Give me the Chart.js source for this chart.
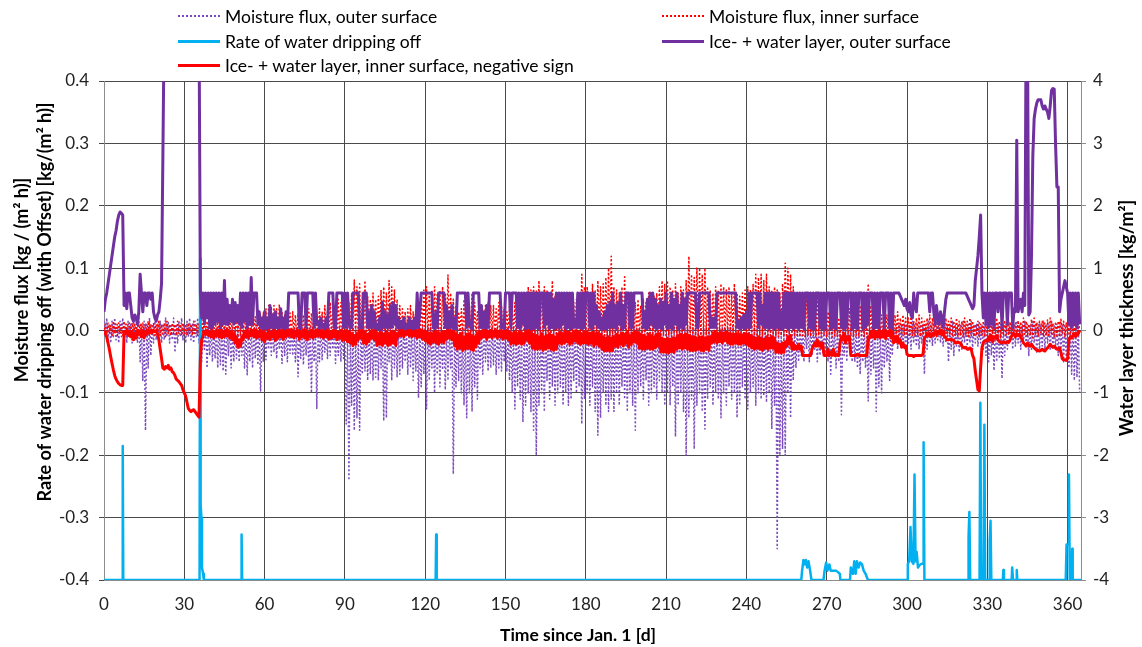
<!DOCTYPE html>
<html>
<head>
<meta charset="utf-8">
<script src="https://cdn.jsdelivr.net/npm/chart.js@4/dist/chart.umd.min.js"></script>
<style>
  html, body { margin: 0; padding: 0; background: #fff; }
  #wrap { position: relative; width: 1142px; height: 647px; }
  #legend { position: absolute; left: 0; top: 0; width: 1142px; height: 78px; font-family: Lato, sans-serif; font-size: 17.5px; color: #000; }
  .item { position: absolute; display: flex; align-items: center; height: 20px; white-space: nowrap; }
  .swatch { width: 42px; height: 0; margin-right: 5px; }
</style>
</head>
<body>
<div id="wrap">
  <canvas id="chart" width="1142" height="647"></canvas>
  <div id="legend"></div>
</div>
<script>
// two readings per day (0:00 and 12:00), days 0..364
const STEP = 0.5;

const seriesNames = [
  'Moisture flux, outer surface',
  'Moisture flux, inner surface',
  'Rate of water dripping off',
  'Ice- + water layer, outer surface',
  'Ice- + water layer, inner surface, negative sign'
];

// kg/(m² h), left axis
const outerFlux = [
  0.015,-0.01,0.02,-0.015,0.01,-0.02,0.015,-0.01,0.02,-0.015,0.01,-0.02,0.015,-0.01,0.02,-0.015,0.01,-0.02,0.015,-0.01,
  0.01,-0.02,0.015,-0.015,0.01,-0.02,0.02,-0.05,0.01,-0.08,0.015,-0.16,0.01,-0.06,0.02,-0.04,0.01,-0.02,0.015,-0.015,
  0.01,-0.01,0.015,-0.02,0.01,-0.015,0.02,-0.01,0.015,-0.02,0.01,-0.015,0.02,-0.035,0.01,-0.02,0.015,-0.01,0.02,-0.015,
  0.01,-0.02,0.015,-0.01,0.02,-0.015,0.01,-0.02,0.015,-0.01,0.02,-0.02,0.01,-0.05,0.005,-0.03,0.005,-0.06,0.005,-0.04,
  0.005,-0.05,0.005,-0.045,0.005,-0.06,0.005,-0.055,0.005,-0.065,0.005,-0.07,0.005,-0.04,0.005,-0.06,0.005,-0.05,0.005,-0.045,
  0.005,-0.05,0.005,-0.04,0.005,-0.06,0.005,-0.071,0.005,-0.05,0.005,-0.06,0.005,-0.045,0.005,-0.055,0.005,-0.097,0.005,-0.05,
  0.005,-0.047,0.005,-0.03,0.005,-0.04,0.005,-0.035,0.005,-0.045,0.005,-0.03,0.005,-0.053,0.005,-0.04,0.005,-0.05,0.005,-0.037,
  0.005,-0.04,0.005,-0.05,0.005,-0.074,0.005,-0.045,0.005,-0.055,0.005,-0.04,0.005,-0.06,0.005,-0.1,0.005,-0.05,0.005,-0.125,
  0.005,-0.05,0.005,-0.047,0.005,-0.035,0.005,-0.045,0.005,-0.04,0.005,-0.03,0.005,-0.053,0.005,-0.04,0.005,-0.05,0.005,-0.045,
  0.005,-0.15,0.005,-0.24,0.005,-0.12,0.005,-0.16,0.005,-0.14,0.005,-0.16,0.005,-0.07,0.005,-0.065,0.005,-0.08,0.005,-0.07,
  0.005,-0.08,0.005,-0.075,0.005,-0.08,0.005,-0.06,0.005,-0.145,0.005,-0.14,0.005,-0.05,0.005,-0.08,0.005,-0.06,0.005,-0.075,
  0.005,-0.07,0.005,-0.06,0.005,-0.05,0.005,-0.07,0.005,-0.06,0.005,-0.08,0.005,-0.065,0.005,-0.108,0.005,-0.09,0.005,-0.07,
  0.005,-0.126,0.005,-0.08,0.005,-0.06,0.005,-0.1,0.005,-0.07,0.005,-0.09,0.005,-0.063,0.005,-0.095,0.005,-0.08,0.005,-0.06,
  0.005,-0.23,0.005,-0.09,0.005,-0.08,0.005,-0.1,0.005,-0.12,0.005,-0.14,0.005,-0.1,0.005,-0.13,0.005,-0.09,0.005,-0.11,
  0.005,-0.06,0.005,-0.07,0.005,-0.05,0.005,-0.065,0.005,-0.06,0.005,-0.055,0.005,-0.07,0.005,-0.06,0.005,-0.065,0.005,-0.05,
  0.005,-0.066,0.005,-0.08,0.005,-0.1,0.005,-0.126,0.005,-0.09,0.005,-0.11,0.005,-0.147,0.005,-0.12,0.005,-0.1,0.005,-0.13,
  0.005,-0.16,0.005,-0.2,0.005,-0.12,0.005,-0.1,0.005,-0.13,0.005,-0.08,0.005,-0.11,0.005,-0.09,0.005,-0.12,0.005,-0.1,
  0.005,-0.09,0.005,-0.12,0.005,-0.1,0.005,-0.12,0.005,-0.11,0.005,-0.08,0.005,-0.1,0.005,-0.09,0.005,-0.15,0.005,-0.11,
  0.005,-0.1,0.005,-0.12,0.005,-0.09,0.005,-0.13,0.005,-0.168,0.005,-0.14,0.005,-0.1,0.005,-0.12,0.005,-0.13,0.005,-0.11,
  0.005,-0.13,0.005,-0.1,0.005,-0.12,0.005,-0.09,0.005,-0.11,0.005,-0.13,0.005,-0.1,0.005,-0.12,0.005,-0.16,0.005,-0.1,
  0.005,-0.09,0.005,-0.11,0.005,-0.08,0.005,-0.12,0.005,-0.1,0.005,-0.09,0.005,-0.11,0.005,-0.08,0.005,-0.1,0.005,-0.12,
  0.005,-0.1,0.005,-0.12,0.005,-0.09,0.005,-0.17,0.005,-0.12,0.005,-0.1,0.005,-0.13,0.005,-0.2,0.005,-0.14,0.005,-0.11,
  0.005,-0.19,0.005,-0.12,0.005,-0.1,0.005,-0.13,0.005,-0.158,0.005,-0.11,0.005,-0.09,0.005,-0.12,0.005,-0.1,0.005,-0.11,
  0.005,-0.14,0.005,-0.1,0.005,-0.12,0.005,-0.09,0.005,-0.11,0.005,-0.1,0.005,-0.14,0.005,-0.12,0.005,-0.09,0.005,-0.11,
  0.005,-0.126,0.005,-0.1,0.005,-0.09,0.005,-0.12,0.005,-0.1,0.005,-0.11,0.005,-0.105,0.005,-0.115,0.005,-0.1,0.005,-0.158,
  0.005,-0.12,0.005,-0.35,0.005,-0.2,0.005,-0.19,0.005,-0.2,0.005,-0.1,0.005,-0.14,0.005,-0.08,0.005,-0.06,0.005,-0.05,
  0.005,-0.04,0.005,-0.05,0.005,-0.03,0.005,-0.05,0.005,-0.04,0.005,-0.03,0.005,-0.05,0.005,-0.04,0.005,-0.035,0.005,-0.04,
  0.005,-0.05,0.005,-0.07,0.005,-0.04,0.005,-0.06,0.005,-0.05,0.005,-0.135,0.005,-0.04,0.005,-0.05,0.005,-0.03,0.005,-0.05,
  0.005,-0.05,0.005,-0.06,0.005,-0.07,0.005,-0.05,0.005,-0.06,0.005,-0.113,0.005,-0.07,0.005,-0.06,0.005,-0.13,0.005,-0.09,
  0.005,-0.1,0.005,-0.06,0.005,-0.05,0.005,-0.08,0.005,-0.04,0.005,-0.02,0.01,-0.03,0.01,-0.015,0.01,-0.02,0.01,-0.03,
  0.01,-0.02,0.01,-0.03,0.015,-0.02,0.01,-0.025,0.01,-0.03,0.01,-0.02,0.01,-0.07,0.01,-0.03,0.015,-0.02,0.01,-0.025,
  0.01,-0.02,0.015,-0.015,0.01,-0.02,0.01,-0.025,0.015,-0.02,0.01,-0.05,0.01,-0.03,0.015,-0.04,0.01,-0.025,0.01,-0.035,
  0.01,-0.03,0.015,-0.02,0.01,-0.025,0.01,-0.02,0.015,-0.03,0.01,-0.02,0.01,-0.025,0.015,-0.02,0.01,-0.03,0.01,-0.04,
  0.01,-0.05,0.01,-0.04,0.01,-0.064,0.01,-0.05,0.01,-0.045,0.01,-0.077,0.01,-0.04,0.01,-0.03,0.015,-0.02,0.01,-0.03,
  0.01,-0.025,0.015,-0.02,0.01,-0.03,0.01,-0.02,0.015,-0.025,0.01,-0.04,0.01,-0.03,0.015,-0.02,0.01,-0.035,0.01,-0.03,
  0.01,-0.025,0.015,-0.03,0.01,-0.02,0.01,-0.032,0.015,-0.025,0.01,-0.03,0.01,-0.04,0.015,-0.03,0.01,-0.05,0.01,-0.045,
  0.01,-0.06,0.01,-0.07,0.01,-0.08,0.01,-0.075,0.01,-0.1
];

const innerFlux = [
  -0.005,0.01,-0.008,0.012,-0.005,0.008,-0.01,0.015,-0.005,0.01,-0.008,0.012,-0.005,0.01,-0.008,0.015,-0.005,0.01,-0.008,0.012,
  -0.005,0.012,-0.008,0.01,-0.005,0.015,-0.01,0.01,-0.005,0.012,-0.008,0.01,-0.005,0.015,-0.008,0.01,-0.005,0.012,-0.008,0.01,
  -0.005,0.015,-0.008,0.01,-0.005,0.012,-0.01,0.015,-0.005,0.01,-0.008,0.012,-0.005,0.01,-0.008,0.015,-0.005,0.01,-0.008,0.012,
  -0.005,0.01,-0.008,0.012,-0.005,0.01,-0.008,0.015,-0.005,0.01,-0.008,0.012,-0.01,0.02,-0.008,0.025,-0.01,0.015,-0.008,0.02,
  -0.01,0.02,-0.008,0.025,-0.01,0.018,-0.008,0.02,-0.01,0.025,-0.008,0.03,-0.01,0.02,-0.008,0.028,-0.01,0.03,-0.008,0.025,
  -0.01,0.03,-0.008,0.022,-0.01,0.028,-0.008,0.02,-0.01,0.025,-0.008,0.03,-0.01,0.022,-0.008,0.025,-0.01,0.02,-0.008,0.028,
  -0.01,0.035,-0.008,0.04,-0.01,0.038,-0.008,0.04,-0.01,0.035,-0.008,0.042,-0.01,0.03,-0.008,0.025,-0.01,0.03,-0.008,0.028,
  -0.01,0.03,-0.008,0.025,-0.01,0.028,-0.008,0.032,-0.01,0.025,-0.008,0.03,-0.01,0.035,-0.008,0.028,-0.01,0.03,-0.008,0.025,
  -0.01,0.035,-0.008,0.03,-0.01,0.04,-0.008,0.032,-0.01,0.045,-0.008,0.035,-0.01,0.04,-0.008,0.05,-0.01,0.045,-0.008,0.04,
  -0.01,0.05,-0.008,0.045,-0.01,0.06,-0.008,0.081,-0.01,0.07,-0.008,0.075,-0.01,0.06,-0.008,0.08,-0.01,0.055,-0.008,0.05,
  -0.01,0.06,-0.008,0.05,-0.01,0.055,-0.008,0.065,-0.01,0.07,-0.008,0.06,-0.01,0.08,-0.008,0.07,-0.01,0.065,-0.008,0.05,
  -0.01,0.04,-0.008,0.035,-0.01,0.03,-0.008,0.035,-0.01,0.04,-0.008,0.03,-0.01,0.035,-0.008,0.045,-0.01,0.06,-0.008,0.065,
  -0.01,0.07,-0.008,0.06,-0.01,0.065,-0.008,0.07,-0.01,0.06,-0.008,0.065,-0.01,0.07,-0.008,0.06,-0.01,0.089,-0.008,0.06,
  -0.01,0.05,-0.008,0.04,-0.01,0.03,-0.008,0.035,-0.01,0.05,-0.008,0.055,-0.01,0.04,-0.008,0.06,-0.01,0.045,-0.008,0.03,
  -0.01,0.035,-0.008,0.03,-0.01,0.04,-0.008,0.045,-0.01,0.04,-0.008,0.04,-0.01,0.035,-0.008,0.045,-0.01,0.04,-0.008,0.035,
  -0.01,0.03,-0.008,0.04,-0.01,0.035,-0.008,0.045,-0.01,0.05,-0.008,0.04,-0.01,0.055,-0.008,0.05,-0.01,0.07,-0.008,0.065,
  -0.01,0.07,-0.008,0.065,-0.01,0.08,-0.008,0.06,-0.01,0.07,-0.008,0.065,-0.01,0.06,-0.008,0.08,-0.01,0.055,-0.008,0.06,
  -0.01,0.04,-0.008,0.045,-0.01,0.035,-0.008,0.05,-0.01,0.04,-0.008,0.045,-0.01,0.05,-0.008,0.04,-0.01,0.09,-0.008,0.07,
  -0.01,0.07,-0.008,0.06,-0.01,0.075,-0.008,0.065,-0.01,0.08,-0.008,0.07,-0.01,0.075,-0.008,0.085,-0.01,0.1,-0.008,0.119,
  -0.01,0.07,-0.008,0.065,-0.01,0.06,-0.008,0.07,-0.01,0.086,-0.008,0.06,-0.01,0.05,-0.008,0.055,-0.01,0.045,-0.008,0.05,
  -0.01,0.04,-0.008,0.05,-0.01,0.045,-0.008,0.06,-0.01,0.05,-0.008,0.055,-0.01,0.06,-0.008,0.07,-0.01,0.08,-0.008,0.075,
  -0.01,0.08,-0.008,0.07,-0.01,0.065,-0.008,0.075,-0.01,0.06,-0.008,0.07,-0.01,0.065,-0.008,0.08,-0.01,0.119,-0.008,0.09,
  -0.01,0.085,-0.008,0.1,-0.01,0.1,-0.008,0.09,-0.01,0.1,-0.008,0.07,-0.01,0.065,-0.008,0.06,-0.01,0.07,-0.008,0.065,
  -0.01,0.075,-0.008,0.07,-0.01,0.065,-0.008,0.07,-0.01,0.06,-0.008,0.075,-0.01,0.06,-0.008,0.055,-0.01,0.06,-0.008,0.065,
  -0.01,0.07,-0.008,0.065,-0.01,0.075,-0.008,0.09,-0.01,0.085,-0.008,0.09,-0.01,0.08,-0.008,0.09,-0.01,0.07,-0.008,0.065,
  -0.01,0.07,-0.008,0.065,-0.01,0.06,-0.008,0.075,-0.01,0.108,-0.008,0.1,-0.01,0.09,-0.008,0.07,-0.01,0.06,-0.008,0.05,
  -0.01,0.05,-0.008,0.043,-0.01,0.06,-0.008,0.045,-0.01,0.05,-0.008,0.04,-0.01,0.055,-0.008,0.045,-0.01,0.04,-0.008,0.035,
  -0.01,0.03,-0.008,0.025,-0.01,0.03,-0.008,0.025,-0.01,0.02,-0.008,0.03,-0.01,0.025,-0.008,0.03,-0.01,0.035,-0.008,0.03,
  -0.01,0.03,-0.008,0.035,-0.01,0.04,-0.008,0.03,-0.01,0.05,-0.008,0.075,-0.01,0.04,-0.008,0.035,-0.01,0.03,-0.008,0.025,
  -0.01,0.025,-0.008,0.02,-0.01,0.025,-0.008,0.03,-0.01,0.02,-0.008,0.025,-0.01,0.03,-0.008,0.02,-0.01,0.025,-0.008,0.02,
  -0.008,0.02,-0.01,0.025,-0.008,0.015,-0.01,0.02,-0.008,0.025,-0.01,0.02,-0.008,0.015,-0.01,0.02,-0.008,0.025,-0.01,0.02,
  -0.008,0.02,-0.01,0.015,-0.008,0.02,-0.01,0.025,-0.008,0.02,-0.01,0.015,-0.008,0.02,-0.01,0.015,-0.008,0.02,-0.01,0.015,
  -0.008,0.015,-0.01,0.02,-0.008,0.015,-0.01,0.02,-0.008,0.015,-0.01,0.01,-0.008,0.015,-0.01,0.01,-0.008,0.015,-0.01,0.012,
  -0.008,0.015,-0.01,0.012,-0.006,0.018,-0.01,0.02,-0.008,0.015,-0.012,0.012,-0.008,0.016,-0.01,0.02,-0.006,0.014,-0.01,0.012,
  -0.008,0.012,-0.01,0.016,-0.008,0.014,-0.01,0.02,-0.006,0.015,-0.01,0.01,-0.008,0.018,-0.012,0.02,-0.008,0.013,-0.01,0.015,
  -0.006,0.015,-0.01,0.012,-0.008,0.017,-0.01,0.02,-0.008,0.012,-0.012,0.014,-0.008,0.015,-0.01,0.018,-0.006,0.015,-0.01,0.012,
  -0.008,0.015,-0.01,0.012,-0.008,0.015,-0.01,0.01,-0.008,0.012
];

// kg/(m² h) with offset -0.4, left axis (sparse: day, value)
const dripDays = [0,6.8,7,7.2,35.7,35.9,36.1,36.4,36.6,37,37.3,51.2,51.4,51.6,123.9,124.1,124.3,
  260.5,260.8,261.3,261.8,262.2,262.7,263.2,263.8,264.3,
  268.8,269.2,269.8,270.3,271,271.5,272.3,273.5,274.9,275.1,
  278.7,279,279.8,280.3,280.8,281.3,281.9,282.5,283.2,283.8,284.5,285.4,
  300,300.3,300.8,301.3,301.8,302.4,302.8,303.2,303.6,304.1,304.7,305.5,306,306.2,306.5,
  322.8,323,323.3,323.6,327.1,327.4,327.7,328.6,328.9,329.2,330.7,330.9,331.2,331.5,
  335.8,336,336.2,339.1,339.3,339.6,340.8,341,341.2,
  359.3,359.6,360.3,360.5,360.8,361.5,361.7,361.9,365];
const dripRates = [-0.4,-0.4,-0.185,-0.4,-0.4,0.115,-0.28,-0.3,-0.38,-0.39,-0.4,-0.4,-0.327,-0.4,-0.4,-0.327,-0.4,
  -0.4,-0.385,-0.368,-0.375,-0.368,-0.38,-0.37,-0.385,-0.4,
  -0.4,-0.385,-0.372,-0.385,-0.375,-0.385,-0.385,-0.385,-0.39,-0.4,
  -0.4,-0.38,-0.39,-0.37,-0.39,-0.37,-0.38,-0.372,-0.375,-0.385,-0.39,-0.4,
  -0.4,-0.374,-0.37,-0.315,-0.37,-0.374,-0.231,-0.37,-0.355,-0.38,-0.376,-0.374,-0.374,-0.179,-0.4,
  -0.4,-0.33,-0.291,-0.4,-0.4,-0.116,-0.4,-0.4,-0.151,-0.4,-0.4,-0.337,-0.305,-0.4,
  -0.4,-0.384,-0.4,-0.4,-0.38,-0.4,-0.4,-0.384,-0.4,
  -0.4,-0.343,-0.343,-0.231,-0.4,-0.4,-0.35,-0.4,-0.4];

// kg/m², right axis
const outerLayer = [
  0.3,0.5,0.6,0.75,0.9,1.05,1.2,1.35,1.5,1.6,1.75,1.85,1.9,1.88,1.85,0.4,0.6,0.35,0.6,0.6,
  0.4,0.2,0.15,0.25,0.2,0.1,0.3,0.9,0.6,0.3,0.6,0.6,0.4,0.6,0.6,0.5,0.6,0.3,0.2,0.15,
  0.25,0.3,0.5,0.75,2.8,5,5,5,5,5,5,5,5,5,5,5,5,5,5,5,
  5,5,5,5,5,5,5,5,5,5,5,5,0.6,0.2,0.6,0.1,0.6,0.2,0.6,0.05,
  0.6,0.05,0.6,0.1,0.6,0.15,0.6,0.05,0.6,0.1,0.8,0.1,0.5,0.1,0.4,0.15,0.5,0.1,0.45,0.15,
  0.4,0.1,0.6,0.05,0.6,0.15,0.6,0.05,0.6,0.1,0.85,0.1,0.6,0.6,0.6,0.1,0.3,0.05,0.2,0.03,
  0.3,0.03,0.2,0.02,0.4,0.05,0.25,0.02,0.3,0.05,0.2,0.02,0.35,0.05,0.2,0.02,0.3,0.05,0.6,0.6,
  0.6,0.6,0.6,0.6,0.6,0.6,0.05,0.03,0.6,0.6,0.6,0.05,0.6,0.6,0.6,0.6,0.6,0.05,0.6,0.1,
  0.15,0.03,0.2,0.05,0.1,0.02,0.2,0.05,0.6,0.6,0.6,0.6,0.05,0.03,0.6,0.6,0.6,0.6,0.6,0.05,
  0.6,0.05,0.6,0.1,0.05,0.05,0.6,0.6,0.6,0.6,0.6,0.05,0.05,0.05,0.6,0.6,0.6,0.05,0.3,0.05,
  0.4,0.05,0.3,0.03,0.1,0.02,0.2,0.02,0.45,0.05,0.3,0.05,0.25,0.05,0.4,0.05,0.45,0.1,0.4,0.05,
  0.2,0.02,0.15,0.02,0.2,0.03,0.1,0.02,0.2,0.02,0.15,0.02,0.2,0.03,0.6,0.05,0.3,0.6,0.6,0.6,
  0.6,0.6,0.6,0.6,0.6,0.6,0.05,0.03,0.3,0.05,0.6,0.6,0.6,0.6,0.6,0.05,0.4,0.03,0.3,0.05,
  0.4,0.03,0.2,0.03,0.6,0.6,0.6,0.6,0.6,0.6,0.6,0.05,0.6,0.1,0.05,0.03,0.6,0.6,0.6,0.6,
  0.6,0.05,0.4,0.05,0.3,0.03,0.4,0.05,0.6,0.6,0.6,0.6,0.6,0.6,0.6,0.6,0.6,0.05,0.05,0.03,
  0.6,0.6,0.6,0.6,0.05,0.6,0.6,0.6,0.6,0.05,0.6,0.03,0.6,0.1,0.6,0.03,0.6,0.05,0.6,0.03,
  0.6,0.03,0.6,0.05,0.6,0.03,0.6,0.6,0.6,0.05,0.6,0.1,0.6,0.03,0.6,0.05,0.5,0.03,0.6,0.05,
  0.6,0.05,0.6,0.1,0.6,0.03,0.6,0.05,0.6,0.03,0.6,0.05,0.15,0.05,0.6,0.05,0.6,0.03,0.6,0.05,
  0.6,0.6,0.6,0.05,0.6,0.03,0.6,0.1,0.4,0.05,0.3,0.03,0.2,0.02,0.3,0.02,0.4,0.05,0.45,0.05,
  0.6,0.05,0.4,0.03,0.45,0.1,0.6,0.03,0.4,0.05,0.6,0.6,0.6,0.05,0.6,0.05,0.6,0.6,0.6,0.6,
  0.6,0.6,0.6,0.05,0.3,0.03,0.5,0.05,0.6,0.1,0.6,0.05,0.5,0.03,0.4,0.05,0.5,0.03,0.45,0.1,
  0.6,0.03,0.4,0.05,0.6,0.03,0.5,0.1,0.6,0.03,0.4,0.05,0.6,0.03,0.5,0.1,0.6,0.6,0.6,0.6,
  0.6,0.6,0.6,0.05,0.05,0.6,0.6,0.6,0.6,0.6,0.6,0.6,0.6,0.05,0.2,0.05,0.2,0.05,0.6,0.6,
  0.6,0.6,0.6,0.6,0.6,0.6,0.6,0.6,0.6,0.6,0.6,0.6,0.6,0.05,0.15,0.03,0.2,0.05,0.25,0.03,
  0.3,0.05,0.6,0.05,0.6,0.6,0.6,0.6,0.6,0.05,0.6,0.1,0.4,0.05,0.6,0.05,0.6,0.03,0.6,0.05,
  0.6,0.03,0.6,0.05,0.6,0.03,0.3,0.02,0.6,0.05,0.6,0.03,0.6,0.05,0.6,0.03,0.6,0.05,0.6,0.03,
  0.6,0.05,0.6,0.03,0.6,0.6,0.6,0.05,0.6,0.03,0.6,0.03,0.6,0.6,0.6,0.05,0.6,0.03,0.6,0.03,
  0.6,0.6,0.6,0.03,0.6,0.05,0.6,0.03,0.6,0.6,0.6,0.05,0.6,0.03,0.6,0.05,0.6,0.6,0.6,0.03,
  0.6,0.05,0.6,0.03,0.6,0.6,0.6,0.03,0.6,0.05,0.6,0.1,0.6,0.6,0.6,0.03,0.6,0.05,0.6,0.03,
  0.6,0.6,0.6,0.05,0.6,0.6,0.6,0.05,0.6,0.03,0.6,0.6,0.6,0.6,0.6,0.55,0.5,0.45,0.4,0.5,
  0.35,0.3,0.45,0.25,0.2,0.6,0.4,0.3,0.6,0.6,0.6,0.6,0.6,0.6,0.6,0.6,0.6,0.3,0.6,0.6,
  0.3,0.1,0.4,0.2,0.1,0.3,0.2,0.05,0.3,0.5,0.6,0.6,0.6,0.6,0.6,0.6,0.6,0.6,0.6,0.6,
  0.6,0.6,0.6,0.6,0.6,0.55,0.5,0.45,0.4,0.35,0.4,0.8,1.0,1.2,1.5,1.85,0.6,0.2,0.6,0.1,
  0.6,0.05,0.6,0.1,0.6,0.05,0.6,0.6,0.3,0.6,0.6,0.05,0.6,0.6,0.6,0.1,0.6,0.6,0.6,0.05,
  0.35,0.3,3.05,0.3,0.4,0.5,0.3,0.6,0.4,5,5,0.25,0.3,1.2,2.8,3.4,3.55,3.65,3.7,3.7,
  3.7,3.6,3.55,3.6,3.55,3.5,3.4,3.6,3.85,3.88,3.87,2.98,2.3,2.3,0.3,0.5,0.6,0.7,0.8,0.7,
  0.6,0.1,0.6,0.05,0.6,0.1,0.6,0.05,0.6,0.1
];

// kg/m², right axis, plotted with negative sign
const innerLayer = [
  0,-0.05,-0.1,-0.2,-0.3,-0.42,-0.53,-0.63,-0.72,-0.78,-0.82,-0.85,-0.87,-0.88,-0.88,-0.02,-0.05,0,-0.08,-0.02,
  -0.1,-0.02,-0.15,-0.05,-0.12,0,-0.05,-0.02,-0.1,0,-0.12,-0.03,-0.06,0,-0.04,0,-0.03,0,-0.02,0,
  -0.05,-0.15,-0.3,-0.45,-0.6,-0.62,-0.58,-0.6,-0.56,-0.62,-0.6,-0.66,-0.68,-0.72,-0.78,-0.8,-0.82,-0.85,-0.88,-0.95,
  -1.0,-1.05,-1.15,-1.25,-1.28,-1.3,-1.28,-1.27,-1.3,-1.33,-1.36,-1.39,-0.45,-0.15,-0.08,-0.02,-0.06,0,-0.08,-0.02,
  -0.1,0,-0.12,-0.02,-0.08,0,-0.1,0,-0.12,-0.02,-0.1,0,-0.08,0,-0.12,-0.02,-0.15,-0.05,-0.2,-0.1,
  -0.27,-0.15,-0.25,-0.1,-0.15,-0.02,-0.1,0,-0.12,-0.02,-0.08,0,-0.1,0,-0.12,-0.02,-0.1,0,-0.15,-0.02,
  -0.18,-0.05,-0.12,0,-0.15,-0.03,-0.1,0,-0.16,-0.02,-0.12,0,-0.1,0,-0.14,-0.02,-0.1,0,-0.08,0,
  -0.1,0,-0.12,-0.02,-0.08,0,-0.14,-0.02,-0.1,0,-0.12,0,-0.15,-0.03,-0.1,0,-0.12,-0.02,-0.1,0,
  -0.08,0,-0.1,0,-0.12,-0.02,-0.1,0,-0.14,-0.02,-0.12,0,-0.1,0,-0.15,-0.03,-0.12,0,-0.16,-0.02,
  -0.15,0,-0.18,-0.02,-0.2,-0.05,-0.24,-0.08,-0.22,-0.05,-0.15,0,-0.12,0,-0.2,-0.03,-0.22,-0.06,-0.18,-0.02,
  -0.12,0,-0.15,-0.02,-0.24,-0.05,-0.22,-0.03,-0.24,-0.06,-0.2,-0.02,-0.24,-0.05,-0.22,-0.03,-0.2,-0.02,-0.24,-0.05,
  -0.1,0,-0.08,0,-0.1,-0.02,-0.06,0,-0.08,0,-0.1,-0.02,-0.08,0,-0.12,0,-0.1,0,-0.14,-0.02,
  -0.16,-0.02,-0.2,-0.04,-0.22,-0.05,-0.18,-0.02,-0.2,-0.03,-0.22,-0.05,-0.18,-0.02,-0.2,-0.03,-0.14,0,-0.12,0,
  -0.15,-0.02,-0.25,-0.05,-0.3,-0.08,-0.28,-0.05,-0.32,-0.1,-0.3,-0.06,-0.28,-0.05,-0.3,-0.08,-0.32,-0.1,-0.26,-0.04,
  -0.2,-0.03,-0.12,0,-0.1,0,-0.14,-0.02,-0.1,0,-0.12,-0.02,-0.08,0,-0.12,-0.02,-0.1,0,-0.14,-0.02,
  -0.12,0,-0.15,-0.02,-0.22,-0.05,-0.2,-0.03,-0.22,-0.05,-0.2,-0.03,-0.22,-0.05,-0.2,-0.02,-0.15,0,-0.2,-0.03,
  -0.28,-0.06,-0.3,-0.08,-0.3,-0.1,-0.28,-0.05,-0.32,-0.1,-0.3,-0.08,-0.28,-0.05,-0.3,-0.08,-0.32,-0.1,-0.3,-0.06,
  -0.2,-0.03,-0.22,-0.05,-0.2,-0.02,-0.18,-0.03,-0.22,-0.05,-0.2,-0.02,-0.16,0,-0.2,-0.03,-0.22,-0.05,-0.2,-0.02,
  -0.2,-0.02,-0.22,-0.04,-0.2,-0.03,-0.25,-0.05,-0.22,-0.04,-0.25,-0.06,-0.3,-0.1,-0.33,-0.12,-0.32,-0.1,-0.33,-0.12,
  -0.32,-0.1,-0.25,-0.06,-0.27,-0.08,-0.22,-0.04,-0.25,-0.06,-0.2,-0.03,-0.27,-0.08,-0.22,-0.04,-0.18,-0.02,-0.2,-0.03,
  -0.28,-0.06,-0.3,-0.08,-0.3,-0.1,-0.28,-0.06,-0.3,-0.08,-0.3,-0.1,-0.28,-0.06,-0.25,-0.05,-0.34,-0.12,-0.35,-0.14,
  -0.35,-0.12,-0.36,-0.14,-0.34,-0.12,-0.35,-0.12,-0.3,-0.08,-0.28,-0.06,-0.3,-0.08,-0.28,-0.06,-0.3,-0.08,-0.32,-0.1,
  -0.32,-0.1,-0.32,-0.12,-0.3,-0.1,-0.32,-0.1,-0.33,-0.12,-0.3,-0.1,-0.32,-0.1,-0.2,-0.04,-0.18,-0.03,-0.2,-0.05,
  -0.18,-0.03,-0.2,-0.04,-0.16,-0.02,-0.2,-0.05,-0.22,-0.06,-0.22,-0.06,-0.2,-0.05,-0.22,-0.06,-0.22,-0.07,-0.2,-0.05,
  -0.22,-0.06,-0.25,-0.08,-0.28,-0.1,-0.3,-0.12,-0.28,-0.1,-0.3,-0.12,-0.32,-0.14,-0.28,-0.1,-0.3,-0.12,-0.28,-0.1,
  -0.28,-0.12,-0.35,-0.2,-0.35,-0.22,-0.36,-0.2,-0.35,-0.18,-0.25,-0.1,-0.22,-0.08,-0.3,-0.2,-0.3,-0.25,-0.3,-0.22,
  -0.3,-0.25,-0.4,-0.4,-0.4,-0.4,-0.4,-0.4,-0.4,-0.3,-0.25,-0.2,-0.25,-0.15,-0.25,-0.2,-0.28,-0.2,-0.4,-0.4,
  -0.4,-0.3,-0.4,-0.35,-0.4,-0.3,-0.4,-0.38,-0.4,-0.4,-0.2,-0.1,-0.15,-0.05,-0.2,-0.1,-0.15,-0.1,-0.4,-0.4,
  -0.4,-0.4,-0.4,-0.38,-0.4,-0.4,-0.4,-0.4,-0.4,-0.4,-0.4,-0.1,-0.12,-0.02,-0.1,0,-0.13,-0.03,-0.1,0,
  -0.12,-0.02,-0.1,0,-0.13,-0.03,-0.08,0,-0.12,-0.02,-0.2,-0.1,-0.18,-0.1,-0.2,-0.15,-0.27,-0.2,-0.27,-0.25,
  -0.38,-0.4,-0.4,-0.4,-0.4,-0.42,-0.4,-0.4,-0.4,-0.4,-0.4,-0.4,-0.38,-0.12,-0.1,-0.05,-0.08,-0.05,-0.1,-0.05,
  -0.08,-0.03,-0.06,-0.02,-0.05,0,-0.07,-0.02,-0.1,-0.12,-0.15,-0.15,-0.14,-0.15,-0.15,-0.16,-0.2,-0.2,-0.18,-0.2,
  -0.2,-0.25,-0.27,-0.28,-0.27,-0.3,-0.3,-0.28,-0.3,-0.4,-0.45,-0.65,-0.8,-0.95,-0.97,-0.6,-0.27,-0.2,-0.17,-0.16,
  -0.17,-0.1,-0.15,-0.08,-0.18,-0.1,-0.12,-0.08,-0.15,-0.18,-0.19,-0.2,-0.18,-0.19,-0.2,-0.18,-0.19,-0.15,-0.1,-0.05,
  -0.06,-0.1,-0.05,-0.08,-0.06,-0.1,-0.15,-0.2,-0.22,-0.25,-0.2,-0.24,-0.25,-0.22,-0.25,-0.28,-0.3,-0.32,-0.32,-0.33,
  -0.32,-0.3,-0.32,-0.33,-0.3,-0.28,-0.25,-0.22,-0.25,-0.27,-0.25,-0.28,-0.3,-0.3,-0.28,-0.35,-0.45,-0.47,-0.47,-0.48,
  -0.45,-0.15,-0.1,-0.12,-0.08,-0.05,-0.1,-0.05,-0.05,0
];

const leftTitle = ['Moisture flux [kg / (m\u00B2 h)]', 'Rate of water dripping off (with Offset) [kg/(m\u00B2 h)]'];
const rightTitle = 'Water layer thickness [kg/m\u00B2]';
const bottomTitle = 'Time since Jan. 1 [d]';

const PURPLE = '#7030a0', PURPLE_DOT = '#7d4cbc', RED = '#ff0000', CYAN = '#00b0f0';

function toPoints(values) {
  return values.map((v, i) => ({ x: i * STEP, y: v }));
}

const FONT = 'Lato, "Open Sans", sans-serif';

// hand-drawn axis titles (right title reads bottom-to-top like the left one)
const axisTitles = {
  id: 'axisTitles',
  afterDraw(chart) {
    const ctx = chart.ctx;
    const rot = (text, x, y) => {
      ctx.save();
      ctx.translate(x, y);
      ctx.rotate(-Math.PI / 2);
      ctx.fillText(text, 0, 0);
      ctx.restore();
    };
    ctx.save();
    ctx.fillStyle = '#000';
    ctx.font = 'bold 18px ' + FONT;
    ctx.textAlign = 'center';
    ctx.textBaseline = 'middle';
    rot(leftTitle[0], 22, 280);
    rot(leftTitle[1], 45, 302);
    rot(rightTitle, 1127, 318);
    ctx.font = 'bold 17.5px ' + FONT;
    ctx.fillText(bottomTitle, 578, 635);
    ctx.restore();
  }
};

const lineBase = { pointRadius: 0, tension: 0, fill: false, borderJoinStyle: 'round' };

new Chart(document.getElementById('chart'), {
  type: 'line',
  data: {
    datasets: [
      { ...lineBase, label: seriesNames[0], data: toPoints(outerFlux), borderColor: PURPLE_DOT, borderWidth: 1.5, borderDash: [2, 2], yAxisID: 'y', order: 5 },
      { ...lineBase, label: seriesNames[1], data: toPoints(innerFlux), borderColor: RED, borderWidth: 1.5, borderDash: [2, 2], yAxisID: 'y', order: 4 },
      { ...lineBase, label: seriesNames[2], data: dripDays.map((d, i) => ({ x: d, y: dripRates[i] })), borderColor: CYAN, borderWidth: 2.5, yAxisID: 'y', order: 3 },
      { ...lineBase, label: seriesNames[3], data: toPoints(outerLayer), borderColor: PURPLE, borderWidth: 3, yAxisID: 'y2', order: 2 },
      { ...lineBase, label: seriesNames[4], data: toPoints(innerLayer), borderColor: RED, borderWidth: 3, yAxisID: 'y2', order: 1 }
    ]
  },
  options: {
    responsive: false,
    animation: false,
    devicePixelRatio: 1,
    layout: { padding: { top: 81, left: 0, right: 0, bottom: 0 } },
    plugins: { legend: { display: false }, tooltip: { enabled: false } },
    scales: {
      x: {
        type: 'linear',
        min: 0, max: 365,
        afterFit: (s) => { s.height = 67; },
        grid: { color: '#4a4a4a', lineWidth: 1, drawTicks: false },
        border: { color: '#8c8c8c' },
        ticks: { stepSize: 30, includeBounds: false, autoSkip: false, maxRotation: 0, padding: 14,
                 color: '#222', font: { family: FONT, size: 17 } }
      },
      y: {
        position: 'left',
        min: -0.4, max: 0.4,
        afterFit: (s) => { s.width = 104; },
        grid: { color: '#4a4a4a', lineWidth: 1, tickLength: 5 },
        border: { color: '#8c8c8c' },
        ticks: { stepSize: 0.1, padding: 10, color: '#222', font: { family: FONT, size: 17 },
                 callback: (v) => (Math.abs(v) < 1e-9 ? 0 : v).toFixed(1) }
      },
      y2: {
        position: 'right',
        min: -4, max: 4,
        afterFit: (s) => { s.width = 61; },
        grid: { drawOnChartArea: false, color: '#8c8c8c', tickLength: 5 },
        border: { color: '#8c8c8c' },
        ticks: { stepSize: 1, padding: 7, color: '#222', font: { family: FONT, size: 17 } }
      }
    }
  },
  plugins: [axisTitles]
});

// legend laid out in two columns like the original
const legendLayout = [
  { left: 178, top: 6, dash: true, color: PURPLE_DOT },
  { left: 662, top: 6, dash: true, color: RED },
  { left: 178, top: 31, dash: false, color: CYAN },
  { left: 662, top: 31, dash: false, color: PURPLE },
  { left: 178, top: 55, dash: false, color: RED }
];
const legend = document.getElementById('legend');
seriesNames.forEach((name, i) => {
  const L = legendLayout[i];
  const item = document.createElement('div');
  item.className = 'item';
  item.style.left = L.left + 'px';
  item.style.top = L.top + 'px';
  const sw = document.createElement('span');
  sw.className = 'swatch';
  sw.style.borderTop = L.dash ? '2px dotted ' + L.color : '3px solid ' + L.color;
  const tx = document.createElement('span');
  tx.textContent = name;
  item.appendChild(sw);
  item.appendChild(tx);
  legend.appendChild(item);
});
</script>
</body>
</html>
